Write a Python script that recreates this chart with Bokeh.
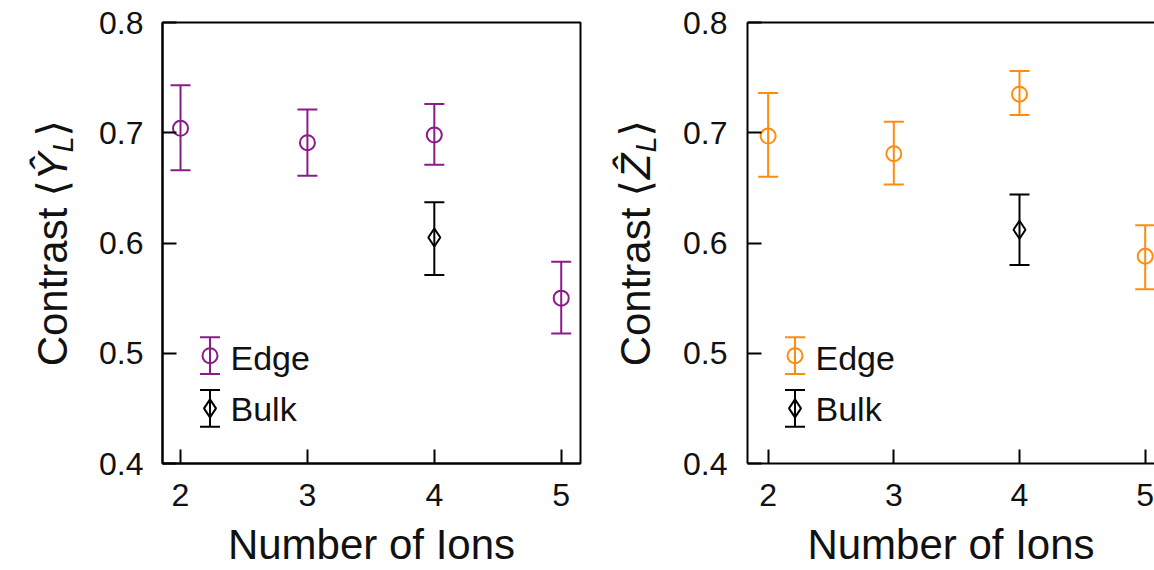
import math
from bokeh.plotting import figure
from bokeh.models import (ColumnDataSource, Whisker, TeeHead, FixedTicker,
                          PrintfTickFormatter, LinearAxis, Range1d)
from bokeh.layouts import row
from bokeh.embed import file_html
from bokeh.resources import INLINE
from bokeh.core.properties import value

# ---------------- data ----------------
ions = [2, 3, 4, 5]
bulk_ions = [4]

# left panel: <Y_L>
y_edge = [0.704, 0.691, 0.698, 0.550]
y_edge_low = [0.666, 0.661, 0.671, 0.518]
y_edge_high = [0.743, 0.721, 0.726, 0.583]
y_bulk = [0.605]
y_bulk_low = [0.571]
y_bulk_high = [0.637]

# right panel: <Z_L>
z_edge = [0.697, 0.681, 0.735, 0.588]
z_edge_low = [0.660, 0.653, 0.716, 0.558]
z_edge_high = [0.736, 0.710, 0.756, 0.616]
z_bulk = [0.612]
z_bulk_low = [0.580]
z_bulk_high = [0.644]

legend_labels = ["Edge", "Bulk"]
x_ticks = [2, 3, 4, 5]
y_ticks = [0.4, 0.5, 0.6, 0.7, 0.8]
x_label = "Number of Ions"
ylabel_left = ["Contrast", "\u27e8", "\u0176", "L", "\u27e9"]
ylabel_right = ["Contrast", "\u27e8", "\u1e90", "L", "\u27e9"]

# ---------------- styling ----------------
FONT = "Liberation Sans"
TEXT = "#111111"
PURPLE = "#8a1c8a"
ORANGE = "#ff8c0f"
H = 570
FRAME_TOP, FRAME_BOTTOM = 22, 465
Y0, Y1 = 0.4, 0.8

# per-piece style of the y-axis label: font, size, style, centre (px from top), baseline shift
LABEL_STYLE = [
    (FONT, "42px", "normal", 287.7, 0),
    ("DejaVu Sans", "42px", "normal", 188.6, 0),
    (FONT, "42px", "italic", 166.6, 0),
    (FONT, "29px", "italic", 144.5, 10),
    ("DejaVu Sans", "42px", "normal", 128.3, 0),
]


def make_label_fig(width, baseline_x, parts):
    f = figure(width=width, height=H, x_range=Range1d(0, width),
               y_range=Range1d(H - FRAME_BOTTOM, H - FRAME_TOP),
               x_axis_type=None, y_axis_type=None,
               output_backend="svg", toolbar_location=None,
               min_border_left=0, min_border_right=0,
               min_border_top=FRAME_TOP, min_border_bottom=H - FRAME_BOTTOM)
    f.grid.visible = False
    f.outline_line_color = None
    f.background_fill_color = "white"
    f.border_fill_color = "white"
    for txt, (font, size, style, cy, dx) in zip(parts, LABEL_STYLE):
        f.text(x=[baseline_x + dx], y=[H - cy], text=[txt], angle=math.pi / 2,
               text_align="center", text_baseline="alphabetic",
               text_font=value(font), text_font_size=value(size),
               text_font_style=style, text_color=TEXT)
    return f


def make_panel(width, border_left, border_right, x_start, x_end,
               e_y, e_lo, e_hi, b_y, b_lo, b_hi, color, right_line, y_standoff):
    p = figure(width=width, height=H,
               x_range=Range1d(x_start, x_end), y_range=Range1d(Y0, Y1),
               output_backend="svg", toolbar_location=None,
               min_border_left=border_left, min_border_right=border_right,
               min_border_top=FRAME_TOP, min_border_bottom=H - FRAME_BOTTOM)
    p.grid.visible = False
    p.background_fill_color = "white"
    p.border_fill_color = "white"

    xa = p.below[0]
    ya = p.left[0]
    for ax in (xa, ya):
        ax.axis_line_width = 2
        ax.axis_line_color = "black"
        ax.major_tick_line_width = 2
        ax.major_tick_line_color = "black"
        ax.major_tick_in = 14
        ax.major_tick_out = 0
        ax.minor_tick_in = 0
        ax.minor_tick_out = 0
        ax.major_label_text_font = FONT
        ax.major_label_text_font_size = "32px"
        ax.major_label_text_color = TEXT
    xa.ticker = FixedTicker(ticks=x_ticks)
    ya.ticker = FixedTicker(ticks=y_ticks)
    ya.formatter = PrintfTickFormatter(format="%.1f")
    xa.major_label_standoff = 20
    ya.major_label_standoff = y_standoff
    xa.axis_label = x_label
    xa.axis_label_text_font = FONT
    xa.axis_label_text_font_size = "42px"
    xa.axis_label_text_font_style = "normal"
    xa.axis_label_text_color = TEXT
    xa.axis_label_standoff = 12

    if right_line:
        p.outline_line_color = "black"
        p.outline_line_width = 2
        p.outline_line_alpha = 1
    else:
        p.outline_line_color = None
        top = LinearAxis(ticker=FixedTicker(ticks=[]), axis_line_width=2,
                         axis_line_color="black", major_tick_in=0, major_tick_out=0,
                         minor_tick_in=0, minor_tick_out=0,
                         major_label_text_font_size="0px", major_label_standoff=0)
        p.add_layout(top, "above")

    frame_w = width - border_left - border_right
    sx = frame_w / (x_end - x_start)
    sy = (FRAME_BOTTOM - FRAME_TOP) / (Y1 - Y0)

    def px2x(dx):
        return x_start + dx / sx

    def px2y(py):
        return Y0 + (FRAME_BOTTOM - py) / sy

    # data error bars + markers
    esrc = ColumnDataSource(dict(x=ions, y=e_y, lo=e_lo, hi=e_hi))
    bsrc = ColumnDataSource(dict(x=bulk_ions, y=b_y, lo=b_lo, hi=b_hi))

    # legend symbols (error-bar style), positioned in pixels inside the frame
    lx = px2x(47.5)
    ly = [px2y(356.7), px2y(409.6)]
    half = 18.5 / sy
    lsrc_e = ColumnDataSource(dict(x=[lx], y=[ly[0]], lo=[ly[0] - half], hi=[ly[0] + half]))
    lsrc_b = ColumnDataSource(dict(x=[lx], y=[ly[1]], lo=[ly[1] - half], hi=[ly[1] + half]))

    for src, col in ((esrc, color), (bsrc, "black"), (lsrc_e, color), (lsrc_b, "black")):
        p.add_layout(Whisker(base="x", lower="lo", upper="hi", source=src,
                             line_color=col, line_width=2,
                             upper_head=TeeHead(size=20, line_color=col, line_width=2),
                             lower_head=TeeHead(size=20, line_color=col, line_width=2)))
    for src in (esrc, lsrc_e):
        p.scatter("x", "y", source=src, marker="circle", size=15,
                  fill_color=None, line_color=color, line_width=2)
    for src in (bsrc, lsrc_b):
        p.scatter("x", "y", source=src, marker="diamond", size=18,
                  fill_color=None, line_color="black", line_width=2)
    p.text(x=[px2x(68)] * 2, y=[px2y(359), px2y(410)], text=legend_labels,
           text_font=value(FONT), text_font_size=value("34px"),
           text_baseline="middle", text_align="left", text_color=TEXT)
    return p


lab1 = make_label_fig(90, 52, ylabel_left)
p1 = make_panel(510, 72, 20, 1.858, 5.152,
                y_edge, y_edge_low, y_edge_high, y_bulk, y_bulk_low, y_bulk_high,
                PURPLE, True, 19)
lab2 = make_label_fig(80, 35, ylabel_right)
p2 = make_panel(474, 67, 0, 1.836, 5.074,
                z_edge, z_edge_low, z_edge_high, z_bulk, z_bulk_low, z_bulk_high,
                ORANGE, False, 20)

layout = row(lab1, p1, lab2, p2)
open("out.html", "w").write(file_html(layout, INLINE))
